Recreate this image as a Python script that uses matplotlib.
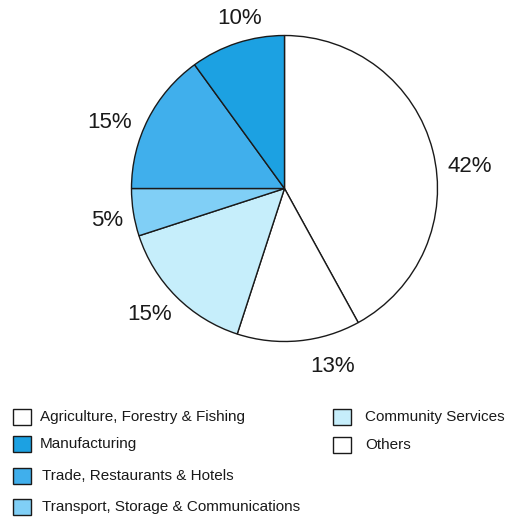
import matplotlib
matplotlib.use("Agg")
import matplotlib.pyplot as plt
from matplotlib.patches import Rectangle

# Sector shares, in drawing order (clockwise from 12 o'clock)
sectors = [
    "Agriculture, Forestry & Fishing",
    "Others",
    "Community Services",
    "Transport, Storage & Communications",
    "Trade, Restaurants & Hotels",
    "Manufacturing",
]
shares = [42, 13, 15, 5, 15, 10]
sector_colors = {
    "Agriculture, Forestry & Fishing": "#ffffff",
    "Others": "#ffffff",
    "Community Services": "#c6eefb",
    "Transport, Storage & Communications": "#80cff6",
    "Trade, Restaurants & Hotels": "#40afec",
    "Manufacturing": "#1ca1e2",
}

# Legend layout: two columns
legend_col1 = [
    "Agriculture, Forestry & Fishing",
    "Manufacturing",
    "Trade, Restaurants & Hotels",
    "Transport, Storage & Communications",
]
legend_col2 = ["Community Services", "Others"]

plt.rcParams["font.family"] = ["Liberation Sans", "DejaVu Sans"]

W, H = 514, 518
fig = plt.figure(figsize=(W / 100, H / 100), dpi=100)
ax = fig.add_axes([0, 0, 1, 1])

cx, cy, r = 284.5, H - 188.5, 153
ax.pie(
    shares,
    colors=[sector_colors[s] for s in sectors],
    startangle=90,
    counterclock=False,
    center=(cx, cy),
    radius=r,
    wedgeprops=dict(edgecolor="#1a1a1a", linewidth=1.0),
)
ax.set_xlim(0, W)
ax.set_ylim(0, H)
ax.set_aspect("equal")
ax.axis("off")

# Percentage labels around the pie (pixel positions, y from top)
label_pos = [(470, 167), (333, 367), (150, 315), (107, 220), (110, 123), (240, 19)]
for val, (x, y) in zip(shares, label_pos):
    ax.text(x, H - y, f"{val}%", ha="center", va="center",
            fontsize=16, color="#1a1a1a")

# Legend entries
def legend_item(x_box, x_text, y, name):
    ax.add_patch(Rectangle((x_box, H - y - 8), 18, 16,
                           facecolor=sector_colors[name],
                           edgecolor="#1a1a1a", linewidth=1.0))
    ax.text(x_text, H - y, name, ha="left", va="center",
            fontsize=11, color="#1a1a1a")

rows1 = [417, 444, 476, 507]
text_x1 = [40, 40, 42, 42]
for name, y, tx in zip(legend_col1, rows1, text_x1):
    legend_item(13, tx, y, name)

rows2 = [417, 445]
for name, y in zip(legend_col2, rows2):
    legend_item(333, 365, y, name)

fig.savefig("out.png", dpi=100)
